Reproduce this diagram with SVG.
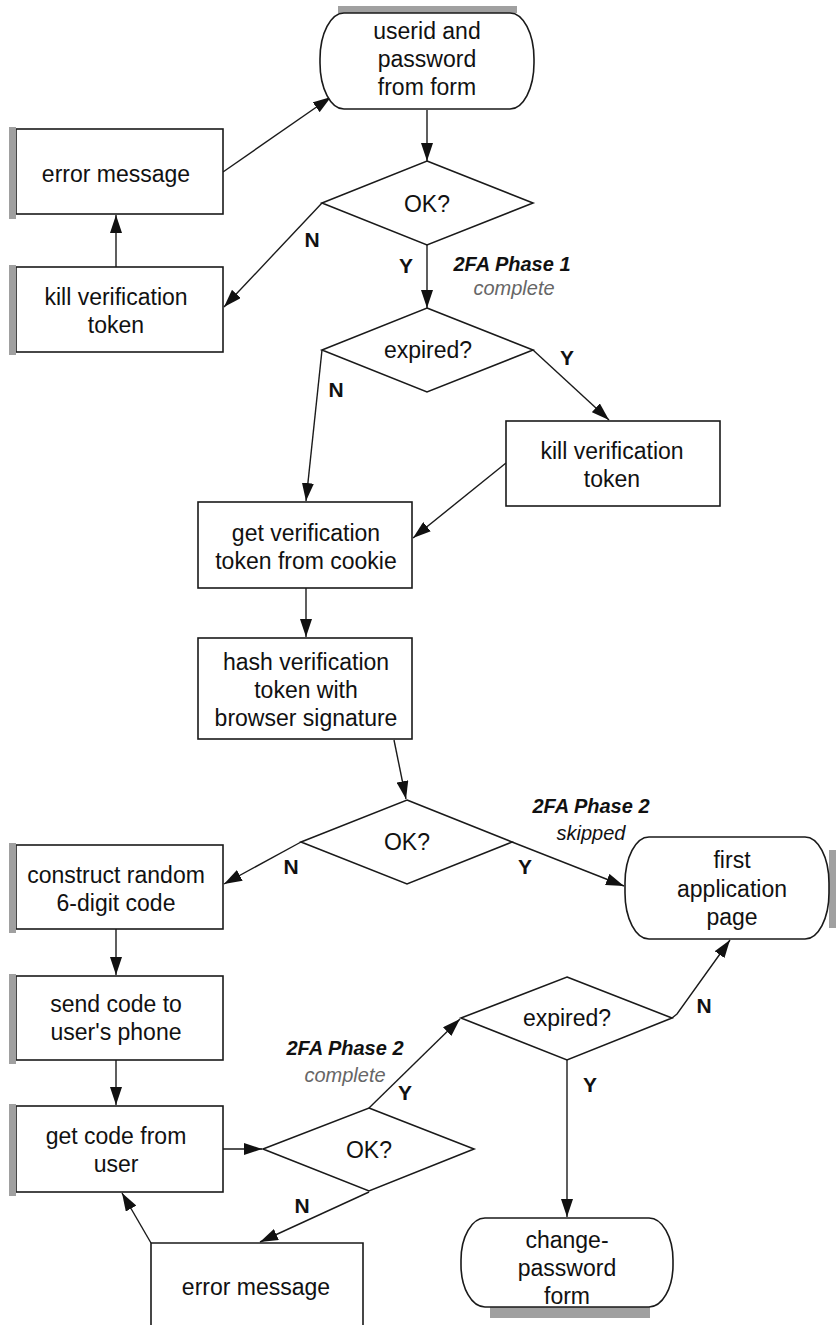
<svg xmlns="http://www.w3.org/2000/svg" width="836" height="1325" viewBox="0 0 836 1325">
  <defs>
    <marker id="arrow" markerUnits="userSpaceOnUse" markerWidth="18" markerHeight="12" refX="18" refY="6" orient="auto">
      <path d="M0,0 L18,6 L0,12 z" fill="#111"/>
    </marker>
    <style>
      .box { fill: #fff; stroke: #1a1a1a; stroke-width: 1.6; }
      .band { fill: #a0a0a0; }
      .txt { font-family: "Liberation Sans", Arial, sans-serif; font-size: 23px; fill: #111; text-anchor: middle; }
      .lbl { font-family: "Liberation Sans", Arial, sans-serif; font-size: 21px; font-weight: bold; fill: #111; text-anchor: middle; }
      .head { font-family: "Liberation Sans", Arial, sans-serif; font-size: 20px; font-style: italic; font-weight: bold; fill: #111; text-anchor: middle; }
      .note { font-family: "Liberation Sans", Arial, sans-serif; font-size: 20px; font-style: italic; fill: #111; text-anchor: middle; }
      .note2 { font-family: "Liberation Sans", Arial, sans-serif; font-size: 20px; font-style: italic; fill: #666; text-anchor: middle; }
      .conn line, .conn polyline { stroke: #1a1a1a; stroke-width: 1.4; fill: none; marker-end: url(#arrow); }
    </style>
  </defs>

  <rect width="836" height="1325" fill="#fff"/>

  <!-- connectors -->
  <g id="connectors" class="conn">
    <line x1="427" y1="110" x2="427" y2="161"/>
    <line x1="223" y1="172" x2="331" y2="97"/>
    <line x1="322" y1="203" x2="224" y2="307"/>
    <line x1="116" y1="267" x2="116" y2="215"/>
    <line x1="427" y1="245" x2="427" y2="308"/>
    <line x1="533" y1="350" x2="609" y2="420"/>
    <line x1="322" y1="350" x2="306" y2="501"/>
    <line x1="506" y1="463" x2="413" y2="538"/>
    <line x1="306" y1="588" x2="306" y2="637"/>
    <line x1="394" y1="740" x2="406" y2="799"/>
    <line x1="301" y1="842" x2="224" y2="884"/>
    <line x1="512" y1="842" x2="624" y2="886"/>
    <line x1="116" y1="929" x2="116" y2="975"/>
    <line x1="116" y1="1060" x2="116" y2="1105"/>
    <line x1="223" y1="1149" x2="262" y2="1149"/>
    <line x1="369" y1="1108" x2="460" y2="1019"/>
    <line x1="369" y1="1192" x2="260" y2="1242"/>
    <line x1="151" y1="1243" x2="122" y2="1193"/>
    <polyline points="672,1018 677,1014 730,940"/>
    <line x1="567" y1="1060" x2="567" y2="1217"/>
  </g>

  <!-- start terminal -->
  <g id="start">
    <rect x="338" y="6" width="179" height="7" class="band"/>
    <rect x="320" y="13" width="214" height="96" rx="24" ry="46" class="box"/>
    <text class="txt" x="427" y="39">userid and</text>
    <text class="txt" x="427" y="67">password</text>
    <text class="txt" x="427" y="95">from form</text>
  </g>

  <g id="ok1">
    <polygon points="427,161 533,203 427,245 322,203" class="box"/>
    <text class="txt" x="427" y="212">OK?</text>
  </g>

  <g id="error1">
    <rect x="16" y="129" width="207" height="85" class="box"/>
    <rect x="9" y="127" width="7" height="92" class="band"/>
    <text class="txt" x="116" y="182">error message</text>
  </g>

  <g id="kill1">
    <rect x="16" y="267" width="207" height="85" class="box"/>
    <rect x="9" y="265" width="7" height="90" class="band"/>
    <text class="txt" x="116" y="305">kill verification</text>
    <text class="txt" x="116" y="333">token</text>
  </g>

  <g id="expired1">
    <polygon points="427,308 533,350 427,392 322,350" class="box"/>
    <text class="txt" x="428" y="358">expired?</text>
  </g>

  <g id="kill2">
    <rect x="506" y="421" width="214" height="85" class="box"/>
    <text class="txt" x="612" y="459">kill verification</text>
    <text class="txt" x="612" y="487">token</text>
  </g>

  <g id="getverif">
    <rect x="198" y="502" width="214" height="86" class="box"/>
    <text class="txt" x="306" y="541">get verification</text>
    <text class="txt" x="306" y="569">token from cookie</text>
  </g>

  <g id="hash">
    <rect x="198" y="638" width="214" height="101" class="box"/>
    <text class="txt" x="306" y="670">hash verification</text>
    <text class="txt" x="306" y="698">token with</text>
    <text class="txt" x="306" y="726">browser signature</text>
  </g>

  <g id="ok2">
    <polygon points="407,800 512,842 407,884 301,842" class="box"/>
    <text class="txt" x="407" y="850">OK?</text>
  </g>

  <g id="firstpage">
    <rect x="829" y="850" width="7" height="78" class="band"/>
    <rect x="625" y="837" width="204" height="102" rx="24" ry="46" class="box"/>
    <text class="txt" x="732" y="868">first</text>
    <text class="txt" x="732" y="897">application</text>
    <text class="txt" x="732" y="925">page</text>
  </g>

  <g id="construct">
    <rect x="16" y="845" width="207" height="84" class="box"/>
    <rect x="9" y="843" width="7" height="90" class="band"/>
    <text class="txt" x="116" y="883">construct random</text>
    <text class="txt" x="116" y="911">6-digit code</text>
  </g>

  <g id="sendcode">
    <rect x="16" y="976" width="207" height="84" class="box"/>
    <rect x="9" y="974" width="7" height="90" class="band"/>
    <text class="txt" x="116" y="1012">send code to</text>
    <text class="txt" x="116" y="1040">user's phone</text>
  </g>

  <g id="getcode">
    <rect x="16" y="1106" width="207" height="86" class="box"/>
    <rect x="9" y="1104" width="7" height="92" class="band"/>
    <text class="txt" x="116" y="1144">get code from</text>
    <text class="txt" x="116" y="1172">user</text>
  </g>

  <g id="ok3">
    <polygon points="369,1108 474,1149 369,1191 263,1149" class="box"/>
    <text class="txt" x="369" y="1158">OK?</text>
  </g>

  <g id="expired2">
    <polygon points="567,977 672,1018 567,1060 461,1018" class="box"/>
    <text class="txt" x="567" y="1026">expired?</text>
  </g>

  <g id="error2">
    <path d="M151,1325 V1243 H363 V1325" class="box"/>
    <text class="txt" x="256" y="1295">error message</text>
  </g>

  <g id="changepw">
    <rect x="490" y="1307" width="160" height="11" class="band"/>
    <rect x="461" y="1218" width="212" height="89" rx="24" ry="42" class="box"/>
    <text class="txt" x="567" y="1248">change-</text>
    <text class="txt" x="567" y="1276">password</text>
    <text class="txt" x="567" y="1304">form</text>
  </g>

  <!-- branch labels -->
  <g id="labels">
    <text class="lbl" x="312" y="247">N</text>
    <text class="lbl" x="406" y="273">Y</text>
    <text class="head" x="512" y="271">2FA Phase 1</text>
    <text class="note2" x="514" y="295">complete</text>
    <text class="lbl" x="567" y="365">Y</text>
    <text class="lbl" x="336" y="397">N</text>
    <text class="lbl" x="291" y="874">N</text>
    <text class="lbl" x="525" y="874">Y</text>
    <text class="head" x="591" y="813">2FA Phase 2</text>
    <text class="note" x="591" y="840">skipped</text>
    <text class="head" x="345" y="1055">2FA Phase 2</text>
    <text class="note2" x="345" y="1082">complete</text>
    <text class="lbl" x="405" y="1100">Y</text>
    <text class="lbl" x="704" y="1013">N</text>
    <text class="lbl" x="590" y="1092">Y</text>
    <text class="lbl" x="302" y="1213">N</text>
  </g>
</svg>
